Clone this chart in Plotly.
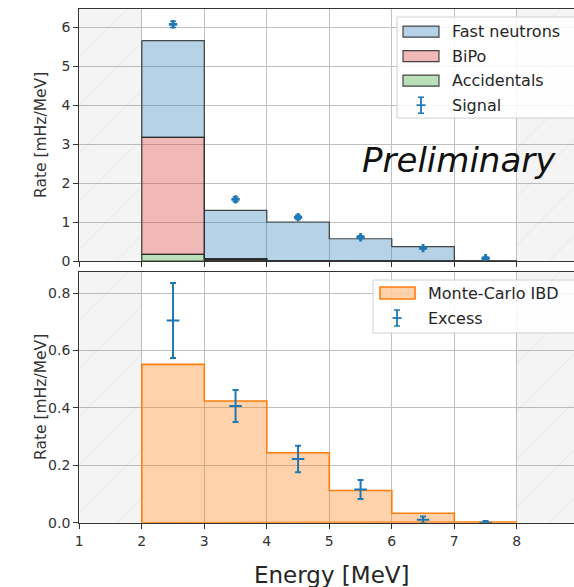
import plotly.graph_objects as go

# Energy binning (MeV)
bin_edges = [2, 3, 4, 5, 6, 7, 8]
bin_centers = [2.5, 3.5, 4.5, 5.5, 6.5, 7.5]

# Background components, stacked (mHz/MeV)
accidentals = [0.17, 0.03, 0.01, 0.005, 0.003, 0.0]
bipo = [3.00, 0.03, 0.0, 0.0, 0.0, 0.0]
fast_neutrons = [2.48, 1.24, 0.99, 0.565, 0.367, 0.0]

# Measured signal (mHz/MeV)
signal = [6.07, 1.58, 1.12, 0.61, 0.33, 0.07]
signal_err = [0.08, 0.06, 0.05, 0.04, 0.03, 0.03]

# Excess over background and simulated IBD spectrum (mHz/MeV)
excess = [0.705, 0.407, 0.222, 0.116, 0.010, 0.0]
excess_err = [0.131, 0.056, 0.046, 0.033, 0.012, 0.006]
mc_ibd = [0.552, 0.424, 0.244, 0.112, 0.033, 0.002]

x_ticks = [1, 2, 3, 4, 5, 6, 7, 8]
top_yticks = [0, 1, 2, 3, 4, 5, 6]
bot_yticks = [0.0, 0.2, 0.4, 0.6, 0.8]

W, H = 574, 587
FONT = "DejaVu Sans"
BLUE = "#1f77b4"
ORANGE = "#ff7f0e"
FN_FILL = "rgba(31,119,180,0.33)"
BIPO_FILL = "rgba(214,39,40,0.33)"
ACC_FILL = "rgba(44,160,44,0.33)"
MC_FILL = "rgba(255,127,14,0.35)"
EDGE = "rgba(40,40,40,0.85)"

X_RANGE = [1, 8.915]
TOP_RANGE = [0, 6.454]
BOT_RANGE = [0, 0.875]


def px(x):
    return x / W


def py(y):
    return 1 - y / H


def step_band(lower, upper):
    """Closed polygon of a filled step histogram between two step curves."""
    xs, ys = [], []
    for i in range(len(upper)):
        xs += [bin_edges[i], bin_edges[i + 1]]
        ys += [upper[i], upper[i]]
    for i in reversed(range(len(lower))):
        xs += [bin_edges[i + 1], bin_edges[i]]
        ys += [lower[i], lower[i]]
    xs.append(xs[0])
    ys.append(ys[0])
    return xs, ys


fig = go.Figure()

# Excluded energy regions (hatched grey) in both panels
for xa, ya, top in (("x", "y", TOP_RANGE[1]), ("x2", "y2", BOT_RANGE[1])):
    fig.add_trace(go.Bar(
        x=[1.5, 8.5], y=[top, top], width=[1, 1], base=0,
        xaxis=xa, yaxis=ya, showlegend=False, hoverinfo="skip",
        marker=dict(
            color="rgba(128,128,128,0.09)",
            line=dict(width=0),
            pattern=dict(shape="/", fillmode="overlay",
                         fgcolor="rgba(150,150,150,0.25)",
                         size=34, solidity=0.03),
        ),
    ))

# Stacked backgrounds
zeros = [0.0] * len(accidentals)
lvl1 = [a for a in accidentals]
lvl2 = [a + b for a, b in zip(lvl1, bipo)]
lvl3 = [a + b for a, b in zip(lvl2, fast_neutrons)]
for lo, hi, fill, name in ((zeros, lvl1, ACC_FILL, "Accidentals"),
                           (lvl1, lvl2, BIPO_FILL, "BiPo"),
                           (lvl2, lvl3, FN_FILL, "Fast neutrons")):
    xs, ys = step_band(lo, hi)
    fig.add_trace(go.Scatter(
        x=xs, y=ys, mode="lines", fill="toself", fillcolor=fill,
        line=dict(color=EDGE, width=1.2), name=name, showlegend=False,
        xaxis="x", yaxis="y",
    ))

fig.add_trace(go.Scatter(
    x=bin_centers, y=signal, mode="markers", name="Signal", showlegend=False,
    marker=dict(symbol="cross", size=7, color=BLUE),
    error_y=dict(type="data", array=signal_err, color=BLUE, thickness=1.5, width=3),
    xaxis="x", yaxis="y",
))

# Monte-Carlo IBD and excess
xs, ys = step_band(zeros, mc_ibd)
fig.add_trace(go.Scatter(
    x=xs, y=ys, mode="lines", fill="toself", fillcolor=MC_FILL,
    line=dict(color=ORANGE, width=1.6), name="Monte-Carlo IBD",
    showlegend=False, xaxis="x2", yaxis="y2",
))
fig.add_trace(go.Scatter(
    x=bin_centers, y=excess, mode="markers", name="Excess", showlegend=False,
    marker=dict(symbol="line-ew", size=9, color=BLUE, line=dict(color=BLUE, width=2)),
    error_y=dict(type="data", array=excess_err, color=BLUE, thickness=2, width=3),
    xaxis="x2", yaxis="y2",
))

axis_common = dict(
    showgrid=True, gridcolor="#c0c0c0", gridwidth=1,
    showline=True, linecolor="#333333", linewidth=1.4,
    ticks="outside", ticklen=5, tickwidth=1.2, tickcolor="#333333",
    tickfont=dict(family=FONT, size=14, color="#333333"),
    zeroline=False, automargin=False,
)

x_dom = [px(79.3), 1.0]
fig.update_layout(
    width=W, height=H,
    margin=dict(l=0, r=0, t=0, b=0, pad=0),
    paper_bgcolor="white", plot_bgcolor="white",
    barmode="overlay", showlegend=False,
    xaxis=dict(axis_common, domain=x_dom, range=X_RANGE, tickvals=x_ticks,
               showticklabels=False, mirror=True, anchor="y"),
    yaxis=dict(axis_common, domain=[py(261), py(9.3)], range=TOP_RANGE,
               tickvals=top_yticks, anchor="x"),
    xaxis2=dict(axis_common, domain=x_dom, range=X_RANGE, tickvals=x_ticks,
                mirror=True, anchor="y2", matches="x"),
    yaxis2=dict(axis_common, domain=[py(522.7), py(271.7)], range=BOT_RANGE,
                tickvals=bot_yticks, tickformat=".1f", anchor="x2"),
)

annotations = [
    dict(text="Rate [mHz/MeV]", x=px(41), y=py(135), textangle=-90,
         font=dict(family=FONT, size=15.5, color="#333333")),
    dict(text="Rate [mHz/MeV]", x=px(41), y=py(397), textangle=-90,
         font=dict(family=FONT, size=15.5, color="#333333")),
    dict(text="Energy [MeV]", x=px(332), y=py(575),
         font=dict(family=FONT, size=23, color="#262626")),
    dict(text="<i>Preliminary</i>", x=px(558), y=py(160), xanchor="right",
         font=dict(family=FONT, size=34, color="#111111")),
]
for a in annotations:
    a.update(xref="paper", yref="paper", showarrow=False)
    a.setdefault("xanchor", "center")
    a.setdefault("yanchor", "middle")

shapes = []


def rect(x0, y0, x1, y1, fill, line_color, lw):
    shapes.append(dict(type="rect", xref="paper", yref="paper",
                       x0=px(x0), x1=px(x1), y0=py(y1), y1=py(y0),
                       fillcolor=fill, line=dict(color=line_color, width=lw)))


def seg(x0, y0, x1, y1, color, lw):
    shapes.append(dict(type="line", xref="paper", yref="paper",
                       x0=px(x0), x1=px(x1), y0=py(y0), y1=py(y1),
                       line=dict(color=color, width=lw)))


def errbar_symbol(cx, cy):
    seg(cx, cy - 8, cx, cy + 8, BLUE, 1.8)
    seg(cx - 3, cy - 8, cx + 3, cy - 8, BLUE, 1.5)
    seg(cx - 3, cy + 8, cx + 3, cy + 8, BLUE, 1.5)
    seg(cx - 4.5, cy, cx + 4.5, cy, BLUE, 1.8)


def legend_text(x, y, text):
    annotations.append(dict(text=text, x=px(x), y=py(y), xref="paper", yref="paper",
                            xanchor="left", yanchor="middle", showarrow=False,
                            font=dict(family=FONT, size=16, color="#262626")))


# Legend of the upper panel
rect(397, 17, 576, 118, "rgba(255,255,255,0.85)", "#d0d0d0", 1)
rows = [31.7, 56.2, 80.7, 105.2]
for (fill, label), ry in zip(((FN_FILL, "Fast neutrons"), (BIPO_FILL, "BiPo"),
                              (ACC_FILL, "Accidentals")), rows):
    rect(403, ry - 5.5, 439, ry + 5.5, fill, EDGE, 1.2)
    legend_text(450, ry, label)
errbar_symbol(421, rows[3])
legend_text(450, rows[3], "Signal")

# Legend of the lower panel
rect(373, 280, 576, 333, "rgba(255,255,255,0.85)", "#d0d0d0", 1)
rect(380, 287, 415, 299, MC_FILL, ORANGE, 1.6)
legend_text(426, 293, "Monte-Carlo IBD")
errbar_symbol(397, 318)
legend_text(426, 318, "Excess")

fig.update_layout(annotations=annotations, shapes=shapes)
fig.write_html("out.html")
